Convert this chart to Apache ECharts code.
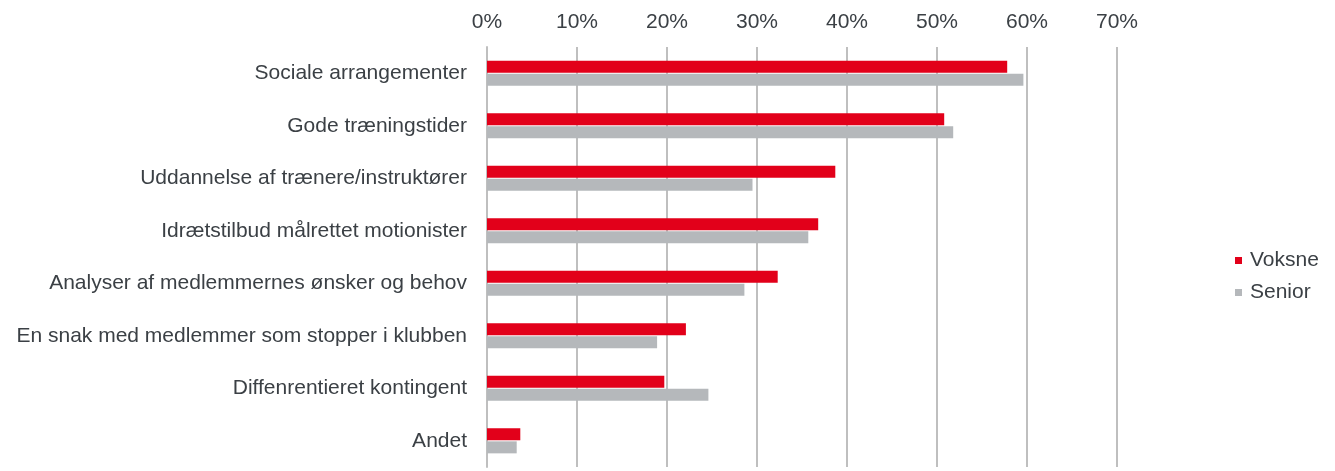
<!DOCTYPE html>
<html>
<head>
<meta charset="utf-8">
<script src="https://cdn.jsdelivr.net/npm/echarts@6/dist/echarts.min.js"></script>
<style>
    html, body { margin: 0; padding: 0; background: #fff; }
    #chart { width: 1335px; height: 471px; }
</style>
</head>
<body>
<div id="chart"></div>
<script>
var categories = [
    'Sociale arrangementer',
    'Gode træningstider',
    'Uddannelse af trænere/instruktører',
    'Idrætstilbud målrettet motionister',
    'Analyser af medlemmernes ønsker og behov',
    'En snak med medlemmer som stopper i klubben',
    'Diffenrentieret kontingent',
    'Andet'
];
var voksne = [57.8, 50.8, 38.7, 36.8, 32.3, 22.1, 19.7, 3.7];
var senior = [59.6, 51.8, 29.5, 35.7, 28.6, 18.9, 24.6, 3.3];

var textColor = '#3b4045';
var font = 'Liberation Sans, Arial, sans-serif';

var myChart = echarts.init(document.getElementById('chart'));
myChart.setOption({
    animation: false,
    textStyle: { fontFamily: font },
    grid: {
        left: 487,
        right: 218,
        top: 47,
        bottom: 4,
        containLabel: false
    },
    legend: {
        orient: 'vertical',
        left: 1230,
        top: 245,
        itemWidth: 7,
        itemHeight: 7,
        itemGap: 11,
        icon: 'rect',
        textStyle: { fontSize: 21, color: textColor, fontFamily: font, padding: [0, 0, 0, 3] },
        data: ['Voksne', 'Senior']
    },
    xAxis: {
        type: 'value',
        position: 'top',
        min: 0,
        max: 70,
        interval: 10,
        axisLine: { show: false },
        axisTick: { show: false },
        axisLabel: {
            formatter: '{value}%',
            fontSize: 21,
            color: textColor,
            margin: 14
        },
        splitLine: {
            lineStyle: { color: '#bfbfbf', width: 2 }
        }
    },
    yAxis: {
        type: 'category',
        inverse: true,
        data: categories,
        axisLine: { show: true, lineStyle: { color: '#bfbfbf', width: 2 } },
        axisTick: { show: false },
        axisLabel: {
            fontSize: 21,
            color: textColor,
            margin: 20,
            padding: [3, 0, 0, 0]
        }
    },
    series: [
        {
            name: 'Voksne',
            type: 'bar',
            barWidth: 12,
            barGap: '10%',
            itemStyle: { color: '#e2001a' },
            data: voksne
        },
        {
            name: 'Senior',
            type: 'bar',
            barWidth: 12,
            itemStyle: { color: '#b5b8bb' },
            data: senior
        }
    ]
});
</script>
</body>
</html>
